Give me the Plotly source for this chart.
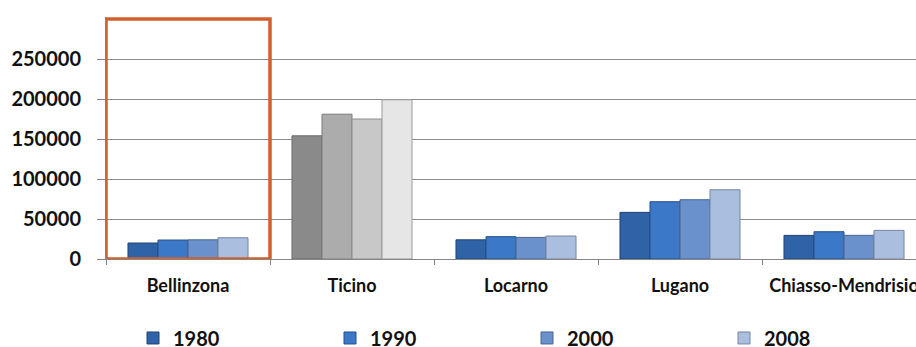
import plotly.graph_objects as go

categories = ["Bellinzona", "Ticino", "Locarno", "Lugano", "Chiasso-Mendrisio"]
years = ["1980", "1990", "2000", "2008"]
v1980 = [20000, 154000, 24000, 58300, 29500]
v1990 = [23700, 181000, 27900, 71600, 34100]
v2000 = [24000, 175000, 27000, 74100, 29600]
v2008 = [26600, 199000, 28700, 86600, 35800]
y_ticks = [0, 50000, 100000, 150000, 200000, 250000]

series = [v1980, v1990, v2000, v2008]
blue = ["#2f63a8", "#3b78c8", "#6a91cc", "#aabfe0"]
blue_line = ["#22446f", "#26508a", "#4a6590", "#7686a0"]
grey = ["#8a8a8a", "#acacac", "#c8c8c8", "#e6e6e6"]
grey_line = ["#6a6a6a", "#7c7c7c", "#8c8c8c", "#9a9a9a"]
highlight_idx = 1  # Ticino drawn in grey

fig = go.Figure()
for i, (yr, vals) in enumerate(zip(years, series)):
    colors = [grey[i] if k == highlight_idx else blue[i] for k in range(len(categories))]
    lcolors = [grey_line[i] if k == highlight_idx else blue_line[i] for k in range(len(categories))]
    fig.add_trace(go.Bar(
        name=yr, x=categories, y=vals,
        marker=dict(color=colors, line=dict(color=lcolors, width=1)),
    ))

font_main = "Lato, 'DejaVu Sans', sans-serif"

fig.update_layout(
    width=916, height=347,
    margin=dict(l=106, r=0, t=17, b=88, autoexpand=False),
    paper_bgcolor="white", plot_bgcolor="white",
    barmode="group", bargap=0.268, bargroupgap=0,
    font=dict(family=font_main, color="#111111"),
    showlegend=True,
    legend=dict(
        orientation="h", xref="container", yref="container",
        x=0.1452, xanchor="left", y=0.026, yanchor="middle",
        font=dict(size=20, family=font_main, weight="bold", color="#111111"),
        entrywidth=152, entrywidthmode="pixels",
        bgcolor="rgba(0,0,0,0)", itemclick=False,
    ),
    xaxis=dict(
        type="category", range=[-0.5, -0.5 + 810 / 164],
        showline=True, linecolor="#868686", linewidth=1,
        ticks="outside", tickson="boundaries", ticklen=5, tickcolor="#868686",
        tickfont=dict(size=18, family=font_main, weight="bold", color="#111111"),
        showgrid=False, zeroline=False, automargin=False,
        ticklabelstandoff=10,
    ),
    yaxis=dict(
        range=[0, 302500], tickvals=y_ticks, ticktext=[str(t) for t in y_ticks],
        showline=True, linecolor="#868686", linewidth=1,
        ticks="outside", ticklen=8, tickcolor="#868686",
        showgrid=True, gridcolor="#8c8c8c", gridwidth=1,
        zeroline=False, automargin=False,
        tickfont=dict(size=20, family=font_main, weight="bold", color="#111111"),
        ticklabelstandoff=12,
    ),
    shapes=[dict(
        type="rect", xref="x", yref="y",
        x0=-0.5, x1=0.5, y0=0, y1=300000,
        line=dict(color="#d35f2a", width=3.5), fillcolor="rgba(0,0,0,0)",
        layer="above",
    )],
)

fig.write_html("out.html")
